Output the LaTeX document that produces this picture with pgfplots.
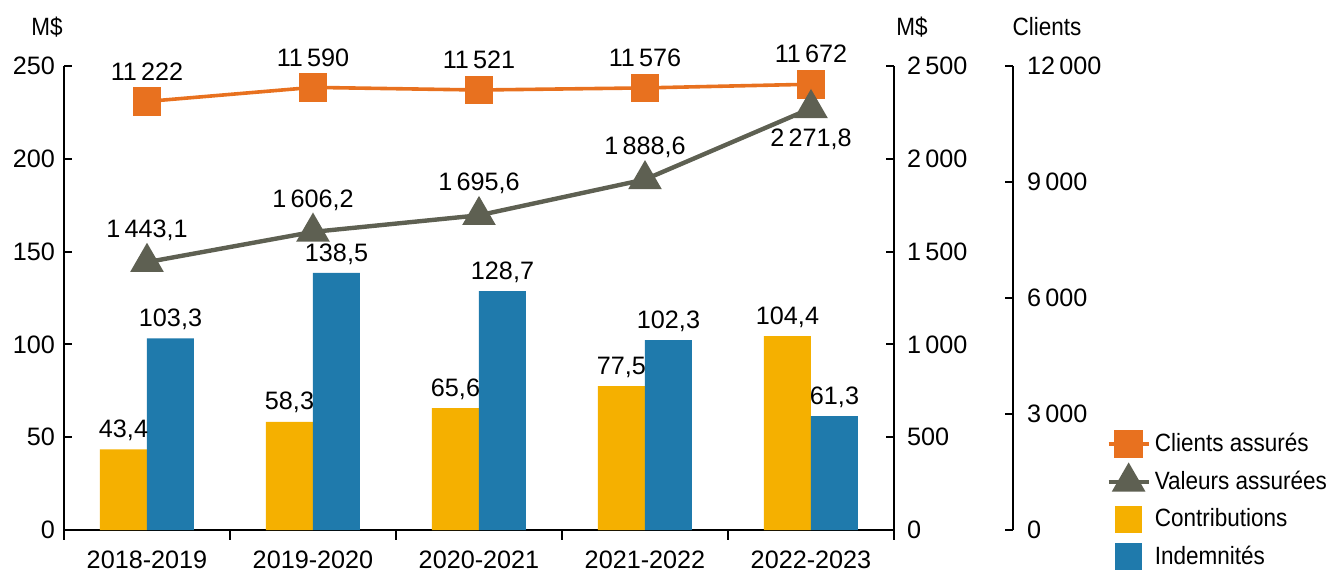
\documentclass[border=0pt]{standalone}
\usepackage{fontspec}
\setmainfont{Liberation Sans}[FakeStretch=0.9]
\newfontfamily\numfont{Liberation Sans}
\usepackage{pgfplots}
\pgfplotsset{compat=1.18}
\definecolor{corange}{HTML}{E8711F}
\definecolor{cgray}{HTML}{5E6052}
\definecolor{cyellow}{HTML}{F5B000}
\definecolor{cblue}{HTML}{1F7AAC}
\newcommand{\nf}{\numfont\fontsize{12.6}{15}\selectfont}
\pgfplotsset{
  base/.style={
    scale only axis, width=415pt, height=232pt, at={(0,0)}, anchor=south west,
    xmin=-0.5, xmax=4.5, clip=false,
    font=\nf,
    scaled y ticks=false,
    /pgf/number format/assume math mode=true,
    /pgf/number format/use comma,
    /pgf/number format/1000 sep={\,},
    tick align=inside, major tick length=4pt,
    axis line style={line width=1pt, black},
    every tick/.style={line width=1pt, black},
    yticklabel style={font=\nf},
    xticklabel style={font=\nf},
  }
}
\begin{document}
\begin{tikzpicture}[font=\fontsize{12.5}{15}\selectfont]
\useasboundingbox (-32pt,-21.5pt) rectangle (632pt,265pt);
% x axis separators (outside ticks)
\begin{axis}[base, ymin=0, ymax=250, axis x line*=bottom, axis y line=none,
  tick align=outside, major tick length=5pt,
  xtick={-0.5,0.5,1.5,2.5,3.5,4.5}, xticklabels={}]
\addplot[draw=none, forget plot] coordinates {(0,0)};
\end{axis}
% Main axis: bars
\begin{axis}[base, ybar=0pt, bar width=23.5pt,
  ymin=0, ymax=250, ytick={0,50,...,250},
  axis x line*=bottom, axis y line*=left,
  yticklabel style={xshift=-1pt},
  xtick={0,1,2,3,4},
  xticklabels={2018-2019,2019-2020,2020-2021,2021-2022,2022-2023},
  major x tick style={draw=none},
  xticklabel style={yshift=-3pt},
  nodes near coords, point meta=explicit symbolic,
  every node near coord/.append style={anchor=center, yshift=9.5pt, text=black, font=\nf},
]
\addplot[fill=cyellow, draw=none] coordinates {(0,43.4)[43,4] (1,58.3)[58,3] (2,65.6)[65,6] (3,77.5)[77,5] (4,104.4)[104,4]};
\addplot[fill=cblue, draw=none] coordinates {(0,103.3)[103,3] (1,138.5)[138,5] (2,128.7)[128,7] (3,102.3)[102,3] (4,61.3)[61,3]};
\end{axis}
% Clients (hidden axis)
\begin{axis}[base, hide axis, ymin=0, ymax=12150]
\addplot[corange, line width=1.8pt, mark=square*, mark size=6.25pt,
  nodes near coords, point meta=explicit symbolic,
  every node near coord/.append style={anchor=center, yshift=15pt, text=black, font=\nf}]
  coordinates {(0,11222)[11\,222] (1,11590)[11\,590] (2,11521)[11\,521] (3,11576)[11\,576] (4,11672)[11\,672]};
\end{axis}
% Valeurs assurees
\begin{axis}[base, ymin=0, ymax=2500, ytick={0,500,...,2500},
  axis y line*=right, axis x line=none, yticklabel style={xshift=3pt}]
\addplot[cgray, line width=2.2pt, mark=triangle*, mark size=7.5pt,
  nodes near coords, point meta=explicit symbolic,
  every node near coord/.append style={anchor=center, yshift=16pt, text=black, font=\nf}]
  coordinates {(0,1443.1)[1\,443,1] (1,1606.2)[1\,606,2] (2,1695.6)[1\,695,6] (3,1888.6)[1\,888,6] (4,2271.8)[]};
\addplot[draw=none, mark=none, forget plot,
  nodes near coords, point meta=explicit symbolic,
  every node near coord/.append style={anchor=center, yshift=-15.5pt, text=black, font=\nf}]
  coordinates {(4,2271.8)[2\,271,8]};
\end{axis}
% Clients axis display + legend
\begin{axis}[base, width=474.5pt, xmin=0, xmax=1, ymin=0, ymax=12000,
  ytick={0,3000,...,12000}, axis y line*=right, axis x line=none,
  yticklabel style={xshift=3.5pt},
  legend style={draw=none, fill=none, at={(1.0917,0.2263)}, anchor=north west,
    font=\fontsize{12.5}{15}\selectfont, row sep=4pt},
  legend cell align=left,
  legend image code/.code={\draw[mark repeat=2,mark phase=2] plot coordinates {(0pt,0pt)(10pt,0pt)(20pt,0pt)};},
]
\addlegendimage{corange, line width=1.8pt, mark=square*, mark size=6.25pt}
\addlegendimage{cgray, line width=2.2pt, mark=triangle*, mark size=7.5pt}
\addlegendimage{only marks, mark=square*, mark size=6.5pt, cyellow}
\addlegendimage{only marks, mark=square*, mark size=6.5pt, cblue}
\legend{Clients assurés, Valeurs assurées, Contributions, Indemnités}
\end{axis}
\node at (-8.5pt,251.5pt) {M\$};
\node at (424pt,251.5pt) {M\$};
\node at (491.5pt,251.5pt) {Clients};
\end{tikzpicture}
\end{document}
